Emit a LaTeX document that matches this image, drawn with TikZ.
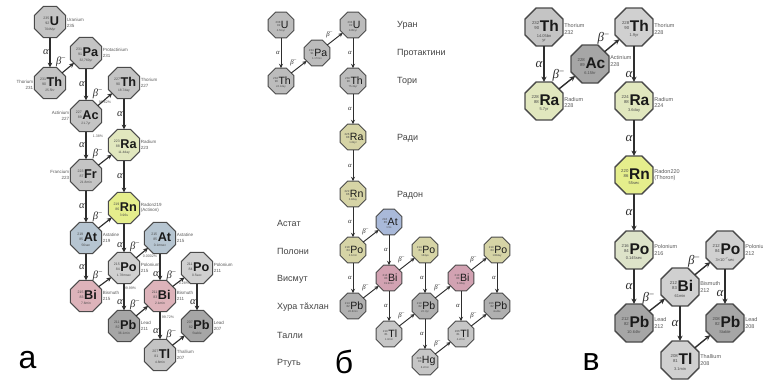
\documentclass[tikz,border=0pt]{standalone}
\usepackage{fontspec}
\setmainfont{Liberation Sans}
\setsansfont{Liberation Sans}
\newfontfamily\greekf{Liberation Serif}
\usetikzlibrary{shapes.geometric,arrows.meta}

\definecolor{edge}{HTML}{4A4A4A}
\definecolor{arr}{HTML}{2E2E2E}
\definecolor{txt}{HTML}{1A1A1A}
\definecolor{numc}{HTML}{4A4A4A}
\definecolor{labc}{HTML}{5A5A5A}
\definecolor{rowc}{HTML}{444444}
\definecolor{gry}{HTML}{C4C4C4}
\definecolor{gryl}{HTML}{D0D0D0}
\definecolor{gryd}{HTML}{A6A6A6}
\definecolor{rac}{HTML}{E1E7BE}
\definecolor{rnc}{HTML}{E5EE8C}
\definecolor{poc}{HTML}{DDE3C9}
\definecolor{atc}{HTML}{B6C5D1}
\definecolor{bic}{HTML}{DDB3BA}
\definecolor{khk}{HTML}{D6D4A6}
\definecolor{atb}{HTML}{A9B9D9}
\definecolor{bib}{HTML}{D2A2B2}
\definecolor{grb}{HTML}{BCBCBC}
\definecolor{pbb}{HTML}{B0B0B0}
\definecolor{tlb}{HTML}{C6C6C6}

\tikzset{
 oct/.style={regular polygon, regular polygon sides=8, draw=edge, inner sep=0pt, outer sep=0pt},
 inner/.style={inner sep=0pt, text=txt},
 nlab/.style={inner sep=0.6pt, text=labc},
 glab/.style={inner sep=0.8pt, text=arr},
 pct/.style={inner sep=0pt, text=labc, font=\fontsize{3.6}{4}\selectfont},
 decay/.style={draw=arr, -{Stealth[length=2pt 2.4, width=2pt 2.2]}},
 bigl/.style={inner sep=0pt, font=\fontsize{32}{32}\selectfont, text=black},
 rowl/.style={inner sep=0pt, anchor=west, font=\fontsize{9}{9}\selectfont, text=rowc},
}

\def\symweight{\bfseries}
\def\gk{13}

% #1 scale, #2 name, #3 position, #4 fill, #5 mass, #6 Z, #7 symbol, #8 half-life
\newcommand\nuc[8]{%
 \pgfmathsetmacro\nucd{38*#1/0.92388}%
 \pgfmathsetmacro\nucS{15.5*#1}%
 \pgfmathsetmacro\nucN{4.3*#1}%
 \pgfmathsetmacro\nucNl{5.4*#1}%
 \pgfmathsetmacro\nucH{4*#1}%
 \pgfmathsetmacro\nucHl{4.8*#1}%
 \pgfmathsetmacro\nucR{1.8*#1}%
 \pgfmathsetmacro\nucK{0.7*#1}%
 \node[oct, fill=#4, minimum size=\nucd pt, line width=1.3*#1 pt] (#2) at #3 {};
 \node[inner] (#2-s) at ([xshift=1.5*#1 pt, yshift=1*#1 pt]#2.center)
  {{\fontsize{\nucN}{\nucNl}\selectfont\color{numc}\raisebox{\nucR pt}{\begin{tabular}[b]{@{}r@{}}#5\\#6\end{tabular}}}\kern\nucK pt{\symweight\fontsize{\nucS}{\nucS}\selectfont #7}};
 \node[inner, anchor=north, align=center, text=numc, font=\fontsize{\nucH}{\nucHl}\selectfont] (#2-h) at ([yshift=-7*#1 pt]#2.center) {#8};
}
\newcommand\rlab[4][0]{%
 \pgfmathsetmacro\labsz{5.5*#2}\pgfmathsetmacro\labls{6.6*#2}%
 \node[nlab, anchor=west, align=left, font=\fontsize{\labsz}{\labls}\selectfont] (#3-t) at ([xshift=0.5pt, yshift=#1 pt]#3.east) {#4};}
\newcommand\llab[4][0]{%
 \pgfmathsetmacro\labsz{5.5*#2}\pgfmathsetmacro\labls{6.6*#2}%
 \node[nlab, anchor=east, align=right, font=\fontsize{\labsz}{\labls}\selectfont] (#3-t) at ([xshift=-0.5pt, yshift=#1 pt]#3.west) {#4};}
\newcommand\adec[4][]{%
 \pgfmathsetmacro\gsz{\gk*#2}%
 \draw[decay, line width=1.4*#2 pt] (#3) -- node[glab, left, font=\greekf\itshape\fontsize{\gsz}{\gsz}\selectfont, #1] (#3-#4) {α} (#4);}
\newcommand\bdec[4][]{%
 \pgfmathsetmacro\gsz{\gk*#2}%
 \draw[decay, line width=1.4*#2 pt] (#3) -- node[glab, above left, pos=0.45, font=\greekf\itshape\fontsize{\gsz}{\gsz}\selectfont, #1] (#3-#4) {β\textsuperscript{\upshape −}} (#4);}
\newcommand\bdecn[3]{\draw[decay, line width=1.4*#1 pt] (#2) -- (#3);}

\begin{document}
\begin{tikzpicture}[x=1pt,y=-1pt]
\useasboundingbox (0,0) rectangle (763,380);
\clip (0,0) rectangle (763,380);
\fill[white] (0,0) rectangle (763,380);

% ================= panel a : actinium series =================
\def\gk{13}
\nuc{.82}{aU235}{(50,22)}{gry}{235}{92}{U}{704Myr}
\nuc{.82}{aTh231}{(50,83)}{gry}{231}{90}{Th}{25.5hr}
\nuc{.82}{aPa231}{(86,53)}{gry}{231}{91}{Pa}{32,760yr}
\nuc{.82}{aTh227}{(124,83)}{gry}{227}{90}{Th}{18.7day}
\nuc{.82}{aAc227}{(86,116)}{gry}{227}{89}{Ac}{21.7yr}
\nuc{.82}{aRa223}{(124,145)}{rac}{223}{88}{Ra}{11.4day}
\nuc{.82}{aFr223}{(86,175)}{gry}{223}{87}{Fr}{21.8min}
\nuc{.82}{aRn219}{(124,208)}{rnc}{219}{86}{Rn}{3.96s}
\nuc{.82}{aAt219}{(86,238)}{atc}{219}{85}{At}{56sec}
\nuc{.82}{aAt215}{(160,238)}{atc}{215}{85}{At}{0.1msec}
\nuc{.82}{aPo215}{(124,268)}{gryl}{215}{84}{Po}{1.78msec}
\nuc{.82}{aPo211}{(197,268)}{gryl}{211}{84}{Po}{0.5sec}
\nuc{.82}{aBi215}{(86,296)}{bic}{215}{83}{Bi}{7.6min}
\nuc{.82}{aBi211}{(160,296)}{bic}{211}{83}{Bi}{2.1min}
\nuc{.82}{aPb211}{(124,326)}{gryd}{211}{82}{Pb}{36.1min}
\nuc{.82}{aPb207}{(197,326)}{gryd}{207}{82}{Pb}{Stable}
\nuc{.82}{aTl207}{(160,355)}{gry}{207}{81}{Tl}{4.8min}

\rlab[-1]{.82}{aU235}{Uranium\\235}
\llab[-2]{.82}{aTh231}{Thorium\\231}
\rlab{.82}{aPa231}{Protactinium\\231}
\rlab{.82}{aTh227}{Thorium\\227}
\llab{.82}{aAc227}{Actinium\\227}
\rlab{.82}{aRa223}{Radium\\223}
\llab{.82}{aFr223}{Francium\\223}
\rlab{.82}{aRn219}{Radon219\\(Actinon)}
\rlab{.82}{aAt219}{Astatine\\219}
\rlab{.82}{aAt215}{Astatine\\215}
\rlab{.82}{aPo215}{Polonium\\215}
\rlab{.82}{aPo211}{Polonium\\211}
\rlab{.82}{aBi215}{Bismuth\\215}
\rlab{.82}{aBi211}{Bismuth\\211}
\rlab{.82}{aPb211}{Lead\\211}
\rlab{.82}{aPb207}{Lead\\207}
\rlab{.82}{aTl207}{Thallium\\207}

\node[pct] (ap1) at (105,102) {98.62\%};
\node[pct] (ap2) at (98,136) {1.38\%};
\node[pct] (ap3) at (150,256) {0.0002\%};
\node[pct] (ap4) at (130,288) {99.99\%};
\node[pct] (ap5) at (184,283) {0.28\%};
\node[pct] (ap6) at (168,317) {99.72\%};

\adec{.82}{aU235}{aTh231}
\bdec{.82}{aTh231}{aPa231}
\adec{.82}{aPa231}{aAc227}
\bdec{.82}{aAc227}{aTh227}
\adec{.82}{aTh227}{aRa223}
\adec{.82}{aAc227}{aFr223}
\bdec{.82}{aFr223}{aRa223}
\adec{.82}{aRa223}{aRn219}
\adec{.82}{aFr223}{aAt219}
\bdec{.82}{aAt219}{aRn219}
\adec[pos=0.75]{.82}{aRn219}{aPo215}
\adec{.82}{aAt219}{aBi215}
\bdec{.82}{aBi215}{aPo215}
\bdec{.82}{aPo215}{aAt215}
\adec[pos=0.7]{.82}{aPo215}{aPb211}
\adec[pos=0.75]{.82}{aAt215}{aBi211}
\bdec{.82}{aPb211}{aBi211}
\bdec{.82}{aBi211}{aPo211}
\adec[pos=0.7]{.82}{aBi211}{aTl207}
\adec[pos=0.7]{.82}{aPo211}{aPb207}
\bdec{.82}{aTl207}{aPb207}

\node[bigl] (la) at (27.5,360) {а};

% ================= panel b : uranium series =================
\def\symweight{}
\def\gk{10}
\nuc{.68}{bU238}{(281,25)}{grb}{238}{92}{U}{4.5Gyr}
\nuc{.68}{bTh234}{(281,81)}{grb}{234}{90}{Th}{24.1day}
\nuc{.68}{bPa234}{(317,53)}{grb}{234}{91}{Pa}{1.17min}
\nuc{.68}{bU234}{(353,25)}{grb}{234}{92}{U}{245kyr}
\nuc{.68}{bTh230}{(353,81)}{grb}{230}{90}{Th}{75.4kyr}
\nuc{.68}{bRa226}{(353,137)}{khk}{226}{88}{Ra}{1.6kyr}
\nuc{.68}{bRn222}{(353,194)}{khk}{222}{86}{Rn}{3.8day}
\nuc{.68}{bAt218}{(389,222)}{atb}{218}{85}{At}{1.5s}
\nuc{.68}{bPo218}{(353,250)}{khk}{218}{84}{Po}{3.1min}
\nuc{.68}{bBi214}{(389,278)}{bib}{214}{83}{Bi}{19.9min}
\nuc{.68}{bPo214}{(425,250)}{khk}{214}{84}{Po}{164µs}
\nuc{.68}{bPb214}{(353,306)}{pbb}{214}{82}{Pb}{26.8min}
\nuc{.68}{bTl210}{(389,334)}{tlb}{210}{81}{Tl}{1.3min}
\nuc{.68}{bPb210}{(425,306)}{pbb}{210}{82}{Pb}{22.3yr}
\nuc{.68}{bHg206}{(425,362)}{tlb}{206}{80}{Hg}{8.2min}
\nuc{.68}{bBi210}{(461,278)}{bib}{210}{83}{Bi}{5.0day}
\nuc{.68}{bPo210}{(497,250)}{khk}{210}{84}{Po}{138day}
\nuc{.68}{bTl206}{(461,334)}{tlb}{206}{81}{Tl}{4.2min}
\nuc{.68}{bPb206}{(497,306)}{pbb}{206}{82}{Pb}{stable}

\adec{.68}{bU238}{bTh234}
\bdec{.68}{bTh234}{bPa234}
\bdec{.68}{bPa234}{bU234}
\adec{.68}{bU234}{bTh230}
\adec{.68}{bTh230}{bRa226}
\adec{.68}{bRa226}{bRn222}
\adec{.68}{bRn222}{bPo218}
\bdec{.68}{bPo218}{bAt218}
\adec{.68}{bPo218}{bPb214}
\adec{.68}{bAt218}{bBi214}
\bdec{.68}{bPb214}{bBi214}
\bdec{.68}{bBi214}{bPo214}
\adec{.68}{bBi214}{bTl210}
\adec{.68}{bPo214}{bPb210}
\bdec{.68}{bTl210}{bPb210}
\bdec{.68}{bPb210}{bBi210}
\adec{.68}{bPb210}{bHg206}
\bdec{.68}{bBi210}{bPo210}
\adec{.68}{bBi210}{bTl206}
\adec{.68}{bPo210}{bPb206}
\bdec{.68}{bHg206}{bTl206}
\bdec{.68}{bTl206}{bPb206}

\node[rowl] (r1) at (397,25) {Уран};
\node[rowl] (r2) at (397,53) {Протактини};
\node[rowl] (r3) at (397,81) {Тори};
\node[rowl] (r4) at (397,138) {Ради};
\node[rowl] (r5) at (397,195) {Радон};
\node[rowl] (r6) at (277,223) {Астат};
\node[rowl] (r7) at (277,251) {Полони};
\node[rowl] (r8) at (277,279) {Висмут};
\node[rowl] (r9) at (277,307) {Хура тăхлан};
\node[rowl] (r10) at (277,335) {Талли};
\node[rowl] (r11) at (277,363) {Ртуть};

\node[bigl] (lb) at (344,362) {б};

% ================= panel c : thorium series =================
\def\symweight{\bfseries}
\def\gk{13}
\nuc{1}{cTh232}{(544,27)}{gry}{232}{90}{Th}{14.05bn\\yr}
\nuc{1}{cAc228}{(590,64)}{gryd}{228}{89}{Ac}{6.15hr}
\nuc{1}{cTh228}{(634,27)}{gryl}{228}{90}{Th}{1.9yr}
\nuc{1}{cRa228}{(544,101)}{rac}{228}{88}{Ra}{5.7yr}
\nuc{1}{cRa224}{(634,101)}{rac}{224}{88}{Ra}{3.6day}
\nuc{1}{cRn220}{(634,175)}{rnc}{220}{86}{Rn}{55sec}
\nuc{1}{cPo216}{(634,250)}{poc}{216}{84}{Po}{0.145sec}
\nuc{1}{cBi212}{(680,287)}{gryl}{212}{83}{Bi}{61min}
\nuc{1}{cPo212}{(725,250)}{gryl}{212}{84}{Po}{3×10\textsuperscript{−7}sec}
\nuc{1}{cPb212}{(634,323)}{gryd}{212}{82}{Pb}{10.64hr}
\nuc{1}{cPb208}{(725,323)}{gryd}{208}{82}{Pb}{Stable}
\nuc{1}{cTl208}{(680,360)}{gryl}{208}{81}{Tl}{3.1min}

\rlab[-2]{1}{cTh232}{Thorium\\232}
\rlab[-2]{1}{cTh228}{Thorium\\228}
\rlab[3]{1}{cAc228}{Actinium\\228}
\rlab[-1.5]{1}{cRa228}{Radium\\228}
\rlab[-1.5]{1}{cRa224}{Radium\\224}
\rlab{1}{cRn220}{Radon220\\(Thoron)}
\rlab{1}{cPo216}{Polonium\\216}
\rlab{1}{cPo212}{Polonium\\212}
\rlab{1}{cBi212}{Bismuth\\212}
\rlab{1}{cPb212}{Lead\\212}
\rlab{1}{cPb208}{Lead\\208}
\rlab{1}{cTl208}{Thallium\\208}

\adec{1}{cTh232}{cRa228}
\bdec{1}{cRa228}{cAc228}
\bdec{1}{cAc228}{cTh228}
\adec[pos=0.8]{1}{cTh228}{cRa224}
\adec{1}{cRa224}{cRn220}
\adec{1}{cRn220}{cPo216}
\adec{1}{cPo216}{cPb212}
\bdec{1}{cPb212}{cBi212}
\bdec{1}{cBi212}{cPo212}
\adec[pos=0.7]{1}{cPo212}{cPb208}
\adec{1}{cBi212}{cTl208}
\bdecn{1}{cTl208}{cPb208}

\node[bigl] (lc) at (591,362) {в};
\end{tikzpicture}
\end{document}
